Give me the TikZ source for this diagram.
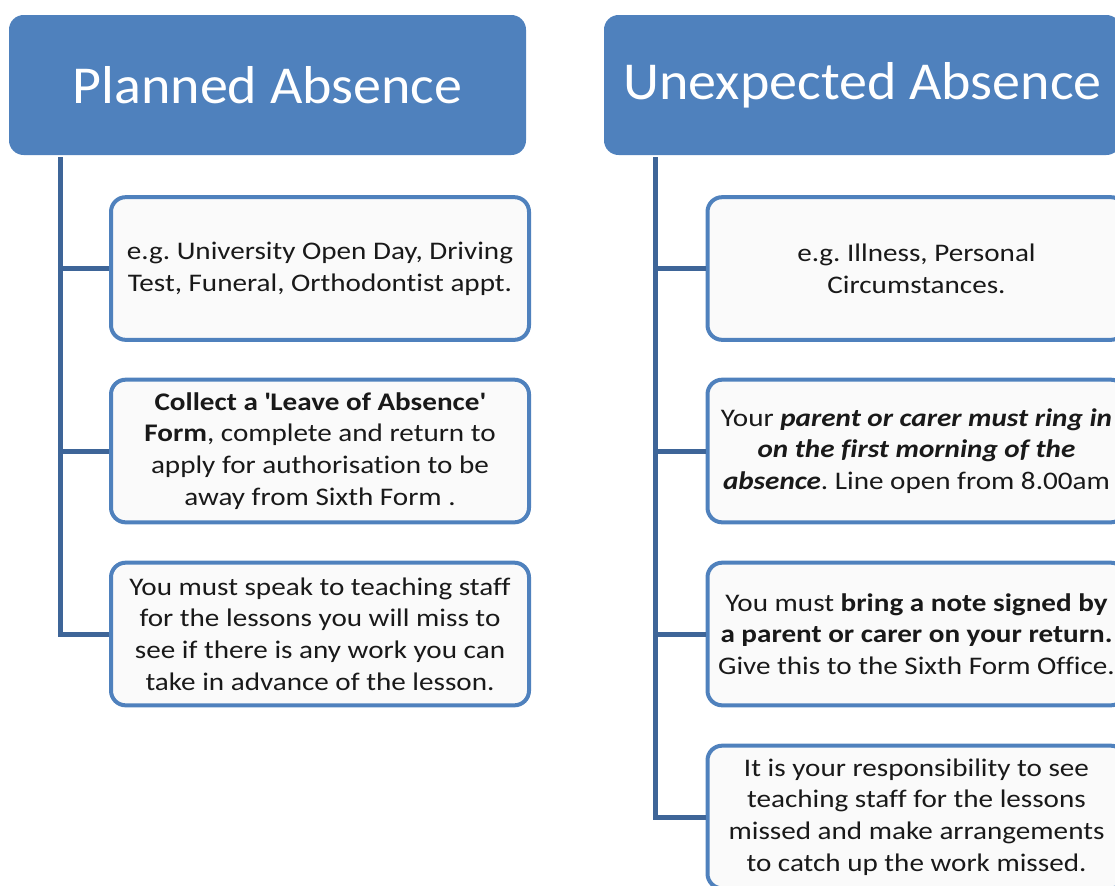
\documentclass[tikz,border=0pt]{standalone}
\usepackage{fontspec}
\setmainfont[Ligatures=NoCommon]{Carlito}
\newfontfamily\hdrfont[Ligatures=NoCommon,FakeStretch=1.05]{Carlito}
\newfontfamily\itemfont[Ligatures=NoCommon,FakeStretch=1.15]{Carlito}
\usetikzlibrary{positioning}
\frenchspacing

\definecolor{hdrblue}{RGB}{79,129,189}
\definecolor{linkblue}{RGB}{62,101,152}
\definecolor{boxfill}{RGB}{250,250,250}

\tikzset{
  header/.style={fill=hdrblue, rounded corners=11pt, text=white, inner sep=0pt,
    minimum width=387.75pt, minimum height=105pt, font=\hdrfont\fontsize{40}{48}\selectfont},
  item/.style={draw=hdrblue, fill=boxfill, line width=3pt, rounded corners=11pt,
    inner sep=0pt, align=center, minimum width=313.5pt, minimum height=107pt,
    text=black!90, font=\itemfont\fontsize{19}{23.8}\selectfont},
  link/.style={draw=linkblue, line width=3.75pt}
}

\begin{document}
\begin{tikzpicture}[x=0.75pt,y=-0.75pt]
\useasboundingbox (0,0) rectangle (1115,886);
\clip (0,0) rectangle (1115,886);

% headers
\node[header] (plan) at (267.5,85) {Planned Absence};
\node[header] (unexp) at (862.5,85) {Unexpected Absence};

% planned absence
\node[item] (pl1) at (320,268.5) {e.g. University Open Day, Driving\\Test, Funeral, Orthodontist appt.};
\node[item] (pl2) at (320,451) {\textbf{Collect a \textquotesingle Leave of Absence\textquotesingle}\\\textbf{Form}, complete and return to\\apply for authorisation to be\\away from Sixth Form .};
\node[item] (pl3) at (320,634) {You must speak to teaching staff\\for the lessons you will miss to\\see if there is any work you can\\take in advance of the lesson.};

% unexpected absence
\node[item] (un1) at (916.5,268.5) {e.g. Illness, Personal\\Circumstances.};
\node[item] (un2) at (916.5,451) {Your \textbf{\textit{parent or carer must ring in}}\\\textbf{\textit{on the first morning of the}}\\\textbf{\textit{absence}}. Line open from 8.00am};
\node[item] (un3) at (916.5,634) {You must \textbf{bring a note signed by}\\\textbf{a parent or carer on your return.}\\Give this to the Sixth Form Office.};
\node[item] (un4) at (916.5,817) {It is your responsibility to see\\teaching staff for the lessons\\missed and make arrangements\\to catch up the work missed.};

% connectors
\coordinate (trL) at (60,157);
\coordinate (trU) at (655,157);
\draw[link] (trL) |- (pl3.west);
\foreach \b in {pl1,pl2} \draw[link] (trL |- \b.west) -- (\b.west);
\draw[link] (trU) |- (un4.west);
\foreach \b in {un1,un2,un3} \draw[link] (trU |- \b.west) -- (\b.west);
\end{tikzpicture}
\end{document}
